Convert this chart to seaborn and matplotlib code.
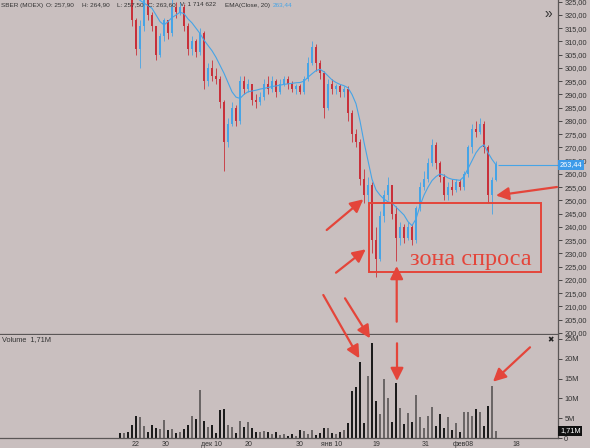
import numpy as np
import pandas as pd
import seaborn as sns
import matplotlib.pyplot as plt
from matplotlib.patches import Rectangle, FancyArrowPatch
from matplotlib.ticker import FuncFormatter

# SBER (MOEX) candles, left to right
first_open = 334
closes = [332, 333, 330, 318, 307, 316, 326, 320, 316, 305,
          312, 318, 313, 323, 321, 323, 316, 307, 310, 306,
          313, 295, 300, 297, 296, 287, 272, 279, 285, 280,
          295, 292, 294, 288, 287, 289, 294, 292, 295, 291,
          294, 296, 294, 292, 293, 291, 296, 302, 308, 302,
          298, 285, 294, 292, 293, 291, 292, 283, 275, 272,
          258, 252, 256, 235, 228, 244, 252, 256, 245, 236,
          240, 236, 240, 235, 247, 255, 258, 264, 271, 264,
          259, 252, 255, 254, 257, 255, 260, 270, 277, 276,
          279, 270, 252, 257.9, 263.6]
highs = [336, 335, 334, 331, 319, 318, 328, 327, 321, 311,
         313, 319, 318, 326, 325, 325, 324, 317, 312, 311,
         315, 314, 302, 303, 300, 297, 288, 281, 287, 286,
         297, 297, 296, 294, 290, 291, 296, 297, 297, 296,
         296, 297, 297, 295, 294, 294, 297, 304, 310, 309,
         303, 299, 296, 296, 294, 294, 293, 293, 284, 277,
         273, 262, 259, 257, 240, 246, 254, 259, 256, 248,
         242, 241, 242, 241, 248, 257, 261, 266, 273, 272,
         265, 260, 257, 258, 258, 258, 261, 271, 279, 280,
         281, 280, 271, 259, 264.9]
lows = [330, 330, 327, 316, 305, 300, 314, 318, 314, 303,
        304, 310, 311, 312, 319, 320, 314, 305, 305, 304,
        305, 292, 293, 295, 294, 285, 261, 270, 278, 278,
        279, 290, 291, 286, 285, 286, 288, 290, 291, 289,
        290, 293, 292, 291, 290, 290, 290, 295, 301, 299,
        296, 281, 284, 290, 290, 289, 289, 280, 272, 270,
        256, 249, 249, 230, 221, 227, 242, 250, 243, 227,
        233, 234, 235, 233, 234, 246, 254, 257, 263, 262,
        257, 250, 250, 252, 253, 254, 254, 259, 268, 274,
        275, 268, 249, 245, 257.5]
# volume, millions
volumes = [1.2, 1.3, 1.6, 3.4, 5.6, 5.4, 3.0, 1.4, 3.4, 2.5,
           2.3, 4.5, 2.0, 2.3, 1.2, 1.4, 2.3, 3.4, 5.6, 4.7,
           12.2, 4.4, 2.7, 3.4, 1.2, 7.0, 7.3, 3.4, 2.7, 1.2,
           4.4, 2.8, 4.0, 2.5, 1.4, 1.6, 1.8, 1.6, 1.0, 1.4,
           0.8, 1.0, 0.6, 1.0, 0.4, 2.0, 1.8, 1.0, 2.1, 0.8,
           1.2, 2.4, 2.6, 1.2, 1.0, 1.5, 2.0, 3.7, 11.8, 12.8,
           19.1, 3.7, 15.7, 23.9, 9.4, 6.0, 15.0, 10.0, 4.0, 14.0,
           7.5, 3.5, 6.4, 4.0, 10.9, 5.2, 2.5, 5.6, 7.7, 3.0,
           6.1, 2.5, 5.2, 2.0, 3.9, 1.5, 6.5, 6.5, 5.5, 7.3,
           6.5, 3.0, 8.2, 13.2, 1.71]
ema20 = [333, 332, 331, 329, 327, 325.5, 324.5, 323.5, 322.5, 320,
         317.5, 316.2, 317.5, 319, 320, 321, 320.5, 318.5, 317, 315,
         313, 310.5, 308.5, 306.5, 304, 301, 298, 294.5, 291, 289,
         288.5, 290, 291, 291.3, 291.6, 292, 292.3, 292.6, 293, 293.2,
         293.5, 293.8, 294, 294.2, 294.4, 294.5, 295, 296.5, 297.8, 299,
         299.5, 298.5, 297, 295.5, 294.5, 293.8, 293.3, 292.5, 290, 286.5,
         280, 272, 265, 258, 254, 252, 250.5, 249.5, 249, 247.5,
         246, 244.5, 242, 240.5, 243, 248, 252, 255, 257.5, 259,
         260, 259.5, 258.5, 258, 257.8, 257.6, 259, 262, 265, 268,
         270, 271, 268, 265.5, 263.44]
date_ticks = [33.9, 41.4, 52.75, 62.1, 74.85, 82.9, 94, 106.5, 115.8, 129.2]
date_labels = ["22", "30", "дек 10", "20", "30", "янв 10", "19", "31", "фев08", "18"]

bg = "#c9bfbf"
red = "#c8303a"
blue = "#46a4e6"
ann = "#e4453a"
ink = "#333333"
line = "#5a5656"

sns.set_theme(style="white")
plt.rcParams["font.family"] = ["Liberation Sans", "DejaVu Sans"]

df = pd.DataFrame({"close": closes, "high": highs, "low": lows,
                   "volume": volumes, "ema": ema20})
df["open"] = [first_open] + closes[:-1]
df["x"] = np.arange(len(df)) + 30
df["up"] = df.close >= df.open

W, H = 590, 448
fig = plt.figure(figsize=(5.9, 4.48), dpi=100, facecolor=bg)
ax = fig.add_axes([0, 1 - 334 / H, 558 / W, 334 / H])
axv = fig.add_axes([0, 10 / H, 558 / W, 103 / H])

# price panel
for up, col in [(True, blue), (False, red)]:
    d = df[df.up == up]
    ax.vlines(d.x, d.low, d.high, color=col, lw=0.6)
    ax.bar(d.x, (d.close - d.open).abs().clip(lower=0.4),
           bottom=d[["open", "close"]].min(axis=1), width=0.55, color=col, lw=0)
sns.lineplot(data=df, x="x", y="ema", ax=ax, color=blue, lw=0.8)
ax.hlines(263.44, df.x.iloc[-1] + 0.5, 139.5, color=blue, lw=0.8)
ax.set(xlabel="", ylabel="", xlim=(0, 139.5), ylim=(199.6, 325.64))
ax.yaxis.tick_right()
ax.set_yticks(np.arange(200, 326, 5))
ax.yaxis.set_major_formatter(FuncFormatter(lambda v, p: f"{v:.2f}".replace(".", ",")))
ax.tick_params(axis="y", length=3, width=0.6, pad=1.5, labelsize=5.3, colors=ink)
ax.tick_params(axis="x", bottom=False, labelbottom=False)

# volume panel
for up, col in [(True, "#6b6666"), (False, "#1c1c1c")]:
    d = df[df.up == up]
    axv.bar(d.x, d.volume, width=0.5, color=col, lw=0)
axv.set(xlabel="", ylabel="", xlim=(0, 139.5), ylim=(0, 26.0))
axv.yaxis.tick_right()
axv.set_yticks([0, 5, 10, 15, 20, 25], ["0", "5M", "10M", "15M", "20M", "25M"])
axv.set_xticks(date_ticks, date_labels)
axv.tick_params(axis="y", length=3, width=0.6, pad=1.5, labelsize=5.3, colors=ink)
axv.tick_params(axis="x", length=2, width=0.6, pad=0.3, labelsize=5.0, colors=ink)

for a in (ax, axv):
    a.set_facecolor(bg)
    a.grid(False)
    for s in ("left", "top"):
        a.spines[s].set_visible(False)
    for s in ("right", "bottom"):
        a.spines[s].set_color(line)
        a.spines[s].set_linewidth(0.9)

# overlay in pixel coordinates for labels and the hand-drawn annotations
ov = fig.add_axes([0, 0, 1, 1], zorder=10)
ov.set_xlim(0, W)
ov.set_ylim(H, 0)
ov.axis("off")
ov.patch.set_alpha(0)

header = [(1, "SBER (MOEX)"), (46, "O: 257,90"), (82, "H: 264,90"), (117, "L: 257,50"),
          (148, "C: 263,60"), (180, "V: 1 714 622"), (225, "EMA(Close, 20)")]
for hx, txt in header:
    ov.text(hx, 5, txt, fontsize=4.6, color=ink, va="center", ha="left")
ov.text(273, 5, "263,44", fontsize=4.6, color=blue, va="center", ha="left")
ov.text(2, 340, "Volume  1,71M", fontsize=5.3, color=ink, va="center", ha="left")
ov.text(548, 14, "»", fontsize=10, color=ink, va="center", ha="center")
ov.text(551, 340, "✖", fontsize=5.5, color="#222222", va="center", ha="center",
        family="DejaVu Sans")
ov.text(560, 165, "263,44", fontsize=5.3, color="white", va="center", ha="left",
        bbox=dict(boxstyle="square,pad=0.25", fc="#3d9be9", ec="none"))
ov.text(560, 431, "1,71M", fontsize=5.3, color="white", va="center", ha="left",
        bbox=dict(boxstyle="square,pad=0.25", fc="#111111", ec="none"))

ov.add_patch(Rectangle((369, 202.7), 171.7, 69, fill=False, ec=ann, lw=1.4))
ov.text(410, 265, "зона спроса", fontsize=17.5, color=ann, family="Liberation Serif",
        ha="left", va="baseline")

arrows = [((326.7, 230), (363.3, 199.3)),
          ((336, 272.7), (365.7, 249.3)),
          ((396.7, 321.7), (396.7, 266)),
          ((557, 187), (496, 195.5)),
          ((323.3, 295), (359.3, 358.3)),
          ((345, 298.3), (370, 338.3)),
          ((397, 343.3), (397, 381)),
          ((530, 347.3), (493, 381.7))]
for tail, head in arrows:
    ov.add_patch(FancyArrowPatch(tail, head, arrowstyle="-|>,head_length=0.7,head_width=0.35",
                                 mutation_scale=11, lw=1.6, color=ann,
                                 shrinkA=0, shrinkB=0))

fig.savefig("out.png", dpi=100, facecolor=bg)
